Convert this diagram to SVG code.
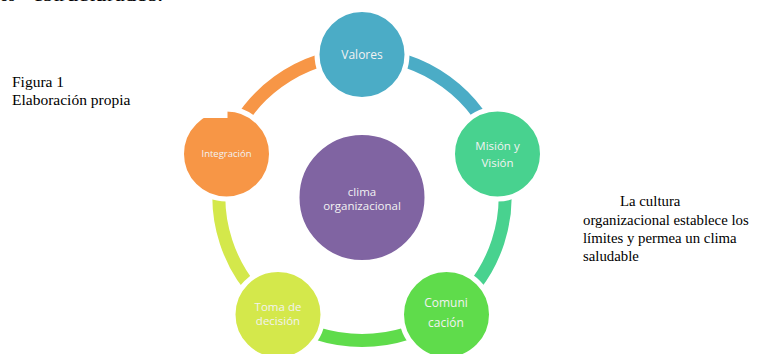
<svg xmlns="http://www.w3.org/2000/svg" width="764" height="354" viewBox="0 0 764 354">
<style>
.ring{fill:none;stroke-width:13}
.node{stroke:#fff;stroke-width:5}
.lbl{font-family:"Open Sans","Noto Sans",sans-serif;fill:#F2F2F2;text-anchor:middle}
.doc{font-family:"Liberation Serif","Times New Roman",serif;fill:#000}
</style>
<rect width="764" height="354" fill="#fff"/>
<text class="doc" x="0" y="1" font-size="17">os</text>
<text class="doc" x="33" y="1" font-size="17" textLength="130" lengthAdjust="spacingAndGlyphs">estructurados.</text>
<g id="caption">
<text class="doc" x="12" y="86.5" font-size="15.5">Figura 1</text>
<text class="doc" x="12" y="105" font-size="15.5">Elaboración propia</text>
</g>
<g id="note">
<text class="doc" x="620" y="206" font-size="14.8">La cultura</text>
<text class="doc" x="583" y="224.5" font-size="14.8">organizacional establece los</text>
<text class="doc" x="583" y="243" font-size="14.8">límites y permea un clima</text>
<text class="doc" x="583" y="261" font-size="14.8">saludable</text>
</g>
<g id="connectors">
<path class="ring" stroke="#4BACC6" d="M362,54.5 A143,143 0 0 1 498,153.3"/>
<path class="ring" stroke="#48D28F" d="M498,153.3 A143,143 0 0 1 446,313.2"/>
<path class="ring" stroke="#5FDC4B" d="M446,313.2 A143,143 0 0 1 278,313.2"/>
<path class="ring" stroke="#D4E84B" d="M278,313.2 A143,143 0 0 1 226,153.3"/>
<path class="ring" stroke="#F79646" d="M226,153.3 A143,143 0 0 1 362,54.5"/>
</g>
<g id="center">
<circle class="node" cx="362" cy="197.5" r="65" fill="#8064A2"/>
<text class="lbl" x="362" y="196" font-size="11.5">clima</text>
<text class="lbl" x="362" y="210" font-size="11.5">organizacional</text>
</g>
<g id="valores">
<circle class="node" cx="362" cy="54.5" r="45" fill="#4BACC6"/>
<text class="lbl" x="362" y="59" font-size="12">Valores</text>
</g>
<g id="mision">
<circle class="node" cx="497.5" cy="154" r="45" fill="#48D28F"/>
<text class="lbl" x="497.5" y="149.5" font-size="11.5">Misión y</text>
<text class="lbl" x="497.5" y="166.5" font-size="11.5">Visión</text>
</g>
<g id="comunicacion">
<circle class="node" cx="446.5" cy="314.5" r="45" fill="#5FDC4B"/>
<text class="lbl" x="446" y="307" font-size="12">Comuni</text>
<text class="lbl" x="446" y="327" font-size="12">cación</text>
</g>
<g id="toma">
<circle class="node" cx="278" cy="314.5" r="45" fill="#D4E84B"/>
<text class="lbl" x="278" y="311" font-size="11.5">Toma de</text>
<text class="lbl" x="278" y="325" font-size="11.5">decisión</text>
</g>
<g id="integracion">
<circle class="node" cx="226.5" cy="154" r="45" fill="#F79646"/>
<rect x="175" y="95" width="52.5" height="23" fill="#fff"/>
<text class="lbl" x="226.5" y="157" font-size="9.5">Integración</text>
</g>
</svg>
